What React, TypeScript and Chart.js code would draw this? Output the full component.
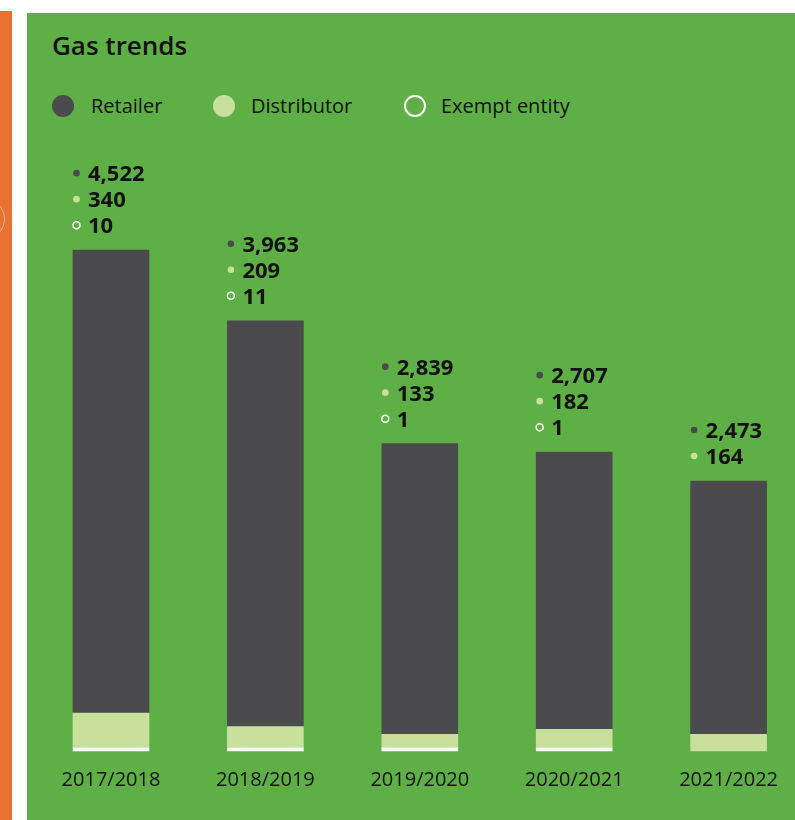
import React, { useEffect, useRef } from "react";
import { Chart, registerables } from "chart.js";

Chart.register(...registerables);

const title = "Gas trends";
const categories = ["2017/2018", "2018/2019", "2019/2020", "2020/2021", "2021/2022"];
const seriesNames = ["Retailer", "Distributor", "Exempt entity"];
const retailer = [4522, 3963, 2839, 2707, 2473];
const distributor = [340, 209, 133, 182, 164];
const exempt = [10, 11, 1, 1, 0];

const RETAILER_COLOR = "#4B4B4D";
const DISTRIBUTOR_COLOR = "#C8E09B";
const EXEMPT_COLOR = "#FFFFFF";
const GREEN = "#5FAF47";
const ORANGE = "#E97132";
const TEXT = "#111111";
const FONT = "'Open Sans', Lato, sans-serif";

const fmt = (v: number) => v.toLocaleString("en-US");

const stackLabelPlugin = {
  id: "stackLabels",
  afterDatasetsDraw(chart: any) {
    const ctx = chart.ctx;
    const topMeta = chart.getDatasetMeta(2);
    ctx.save();
    ctx.font = `bold 22px ${FONT}`;
    ctx.textBaseline = "middle";
    ctx.textAlign = "left";
    categories.forEach((_, i) => {
      const bar = topMeta.data[i];
      if (!bar) return;
      const props = bar.getProps(["x", "y", "width"], true);
      const left = props.x - props.width / 2;
      const lines: { v: number; kind: number }[] = [
        { v: retailer[i], kind: 0 },
        { v: distributor[i], kind: 1 },
      ];
      if (exempt[i] > 0) lines.push({ v: exempt[i], kind: 2 });
      const n = lines.length;
      lines.forEach((ln, j) => {
        const cy = props.y - 24 - (n - 1 - j) * 26;
        const dx = left + 3.5;
        const dy = cy - 1;
        ctx.beginPath();
        if (ln.kind === 2) {
          ctx.arc(dx, dy, 3.5, 0, Math.PI * 2);
          ctx.strokeStyle = EXEMPT_COLOR;
          ctx.lineWidth = 1.5;
          ctx.stroke();
        } else {
          ctx.arc(dx, dy, 3.3, 0, Math.PI * 2);
          ctx.fillStyle = ln.kind === 0 ? RETAILER_COLOR : DISTRIBUTOR_COLOR;
          ctx.fill();
        }
        ctx.fillStyle = TEXT;
        ctx.fillText(fmt(ln.v), left + 15, cy + 1);
      });
    });
    ctx.restore();
  },
};

export default function App() {
  const canvasRef = useRef<HTMLCanvasElement | null>(null);

  useEffect(() => {
    if (!canvasRef.current) return;
    const chart = new Chart(canvasRef.current, {
      type: "bar",
      data: {
        labels: categories,
        datasets: [
          {
            label: seriesNames[2],
            data: exempt.map((v) => (v > 0 ? v : null)),
            backgroundColor: EXEMPT_COLOR,
            minBarLength: 3,
          },
          {
            label: seriesNames[1],
            data: distributor,
            backgroundColor: DISTRIBUTOR_COLOR,
          },
          {
            label: seriesNames[0],
            data: retailer,
            backgroundColor: RETAILER_COLOR,
          },
        ] as any,
      },
      options: {
        animation: false,
        responsive: false,
        maintainAspectRatio: false,
        datasets: {
          bar: {
            barThickness: 76,
            borderWidth: 0,
            clip: false as any,
          },
        } as any,
        layout: {
          padding: { left: 111, right: 66, top: 239, bottom: 11 },
        },
        plugins: {
          legend: { display: false },
          title: { display: false },
          tooltip: { enabled: false },
        },
        scales: {
          x: {
            stacked: true,
            offset: false,
            grid: { display: false, drawTicks: false },
            border: { display: false },
            ticks: {
              color: TEXT,
              padding: 17,
              font: { family: FONT, size: 20 },
            },
          },
          y: {
            stacked: true,
            display: false,
            min: 0,
            max: 5000,
          },
        },
      },
      plugins: [stackLabelPlugin],
    });
    return () => chart.destroy();
  }, []);

  const legendItems = [
    { name: seriesNames[0], cx: 63, tx: 91, fill: RETAILER_COLOR, ring: false },
    { name: seriesNames[1], cx: 224, tx: 251, fill: DISTRIBUTOR_COLOR, ring: false },
    { name: seriesNames[2], cx: 415, tx: 441, fill: "transparent", ring: true },
  ];

  return (
    <div style={{ position: "fixed", left: 0, top: 0, width: 795, height: 820, background: "#FFFFFF", overflow: "hidden" }}>
      <div style={{ position: "absolute", left: 0, top: 11, width: 12, height: 809, background: ORANGE, overflow: "hidden" }}>
        <div style={{ position: "absolute", left: -37, top: 187, width: 40, height: 40, borderRadius: "50%", border: "1px solid #F6B88E" }} />
      </div>
      <div style={{ position: "absolute", left: 27, top: 13, width: 768, height: 807, background: GREEN }} />
      <div style={{ position: "absolute", left: 52, top: 28, font: `600 26px ${FONT}`, color: TEXT, lineHeight: "34px", whiteSpace: "nowrap" }}>
        {title}
      </div>
      {legendItems.map((it) => (
        <React.Fragment key={it.name}>
          <div
            style={{
              position: "absolute",
              left: it.cx - 11,
              top: 95,
              width: 22,
              height: 22,
              boxSizing: "border-box",
              borderRadius: "50%",
              background: it.fill,
              border: it.ring ? "2.5px solid #FFFFFF" : "none",
            }}
          />
          <div style={{ position: "absolute", left: it.tx, top: 92, font: `20px ${FONT}`, color: TEXT, lineHeight: "28px", whiteSpace: "nowrap" }}>
            {it.name}
          </div>
        </React.Fragment>
      ))}
      <canvas ref={canvasRef} width={795} height={820} style={{ position: "absolute", left: 0, top: 0, width: 795, height: 820 }} />
    </div>
  );
}
